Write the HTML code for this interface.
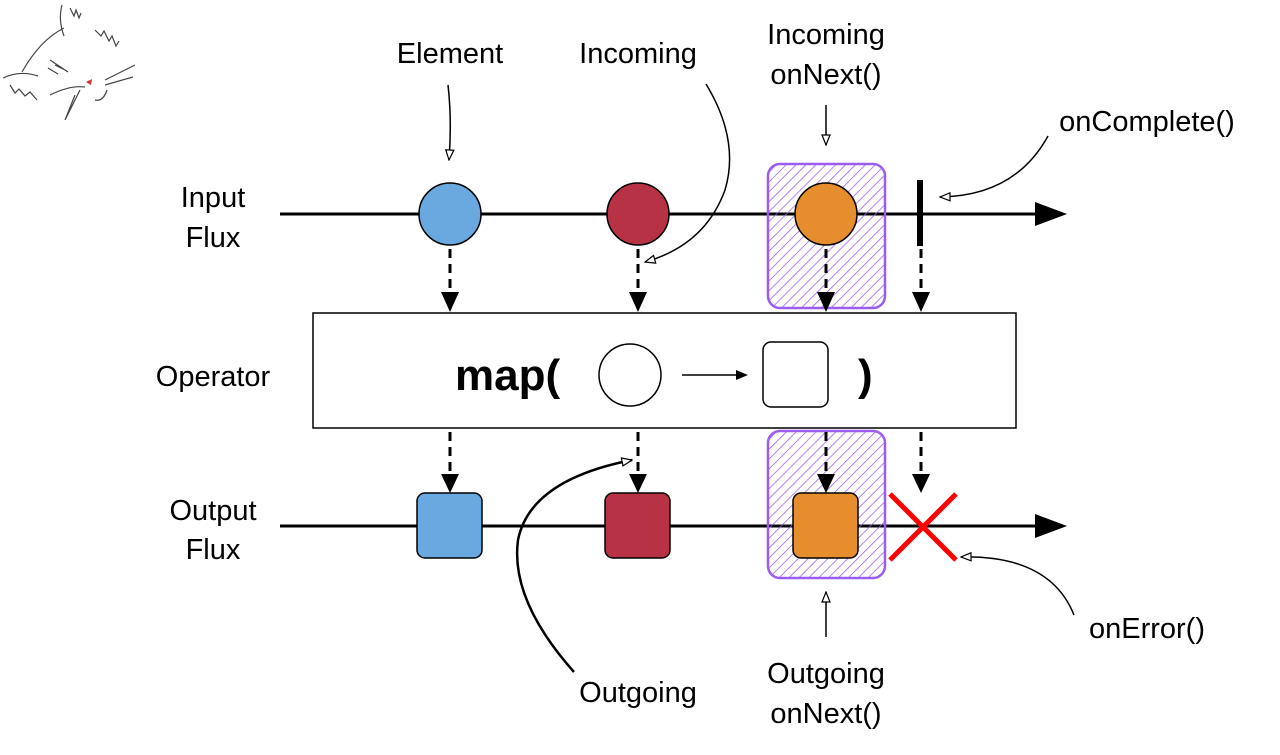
<!DOCTYPE html>
<html><head><meta charset="utf-8"><style>
html,body{margin:0;padding:0;background:#fff;}
svg{display:block;}
text{font-family:"Liberation Sans",sans-serif;font-size:29px;fill:#000;}
</style></head><body>
<svg width="1280" height="755" viewBox="0 0 1280 755" xmlns="http://www.w3.org/2000/svg">
<defs>
<pattern id="h" patternUnits="userSpaceOnUse" width="7" height="7" patternTransform="rotate(45)">
<line x1="0" y1="0" x2="0" y2="7" stroke="#9b5cf0" stroke-width="1.5"/>
</pattern>
<marker id="oh" markerWidth="12" markerHeight="10" refX="11" refY="5" orient="auto" markerUnits="userSpaceOnUse">
<path d="M1,1 L11,5 L1,9 Z" fill="#fff" stroke="#000" stroke-width="1.2"/>
</marker>
</defs>

<!-- cat sketch -->
<g fill="none" stroke="#444" stroke-width="1.2">
<path d="M62,5 Q58,20 64,36"/>
<path d="M64,28 Q40,40 22,72"/>
<path d="M3,78 Q20,70 38,76"/>
<path d="M70,8 l4,8 l2,-6 l3,8 l2,-5"/>
<path d="M95,30 l6,6 l3,-5 l5,10 l3,-5 l4,10 l3,-5"/>
<path d="M10,85 l5,8 l4,-4 l6,7 l5,-4 l7,8"/>
<path d="M50,60 l18,12 M55,65 l12,6 M48,68 l10,6"/>
<path d="M50,95 q20,-10 35,-8 M80,90 l-14,28 M75,95 l-10,25"/>
<path d="M105,80 l30,-15 M105,85 l28,-8 M95,100 q8,2 12,-10"/>
</g>
<path d="M86,82 l6,-3 l-1,6z" fill="#c33"/>

<line x1="280" y1="214" x2="1040" y2="214" stroke="#000" stroke-width="3"/>
<path d="M1035,202 L1067,214 L1035,226Z" fill="#000"/>
<line x1="280" y1="526" x2="1040" y2="526" stroke="#000" stroke-width="3"/>
<path d="M1035,514 L1067,526 L1035,538Z" fill="#000"/>

<rect x="768" y="164" width="117" height="144" rx="12" fill="url(#h)" stroke="#9b5cf0" stroke-width="2.5"/>
<rect x="768" y="431" width="117" height="147" rx="12" fill="url(#h)" stroke="#9b5cf0" stroke-width="2.5"/>

<circle cx="450" cy="214" r="31" fill="#6aa9e0" stroke="#000" stroke-width="1.5"/>
<circle cx="638" cy="214" r="31" fill="#b83245" stroke="#000" stroke-width="1.5"/>
<circle cx="826" cy="214" r="31" fill="#e68e2e" stroke="#000" stroke-width="1.5"/>
<rect x="917" y="180" width="6" height="66" fill="#000"/>

<g stroke="#000" stroke-width="3" stroke-dasharray="9,6">
<line x1="450" y1="249" x2="450" y2="294"/><line x1="638" y1="249" x2="638" y2="294"/>
<line x1="826" y1="249" x2="826" y2="294"/><line x1="921" y1="249" x2="921" y2="294"/>
<line x1="450" y1="432" x2="450" y2="476"/><line x1="638" y1="432" x2="638" y2="476"/>
<line x1="826" y1="432" x2="826" y2="476"/><line x1="921" y1="432" x2="921" y2="476"/>
</g>
<g fill="#000">
<path d="M441,292 L459,292 L450,312Z"/><path d="M629,292 L647,292 L638,312Z"/>
<path d="M817,292 L835,292 L826,312Z"/><path d="M912,292 L930,292 L921,312Z"/>
<path d="M441,474 L459,474 L450,493Z"/><path d="M629,474 L647,474 L638,493Z"/>
<path d="M817,474 L835,474 L826,493Z"/><path d="M912,474 L930,474 L921,493Z"/>
</g>

<rect x="313" y="313" width="703" height="115" fill="#fff" stroke="#000" stroke-width="1.5"/>
<text x="455" y="390" style="font-size:44px;font-weight:bold">map(</text>
<circle cx="630" cy="375" r="31" fill="#fff" stroke="#000" stroke-width="1.5"/>
<line x1="682" y1="375" x2="740" y2="375" stroke="#000" stroke-width="1.5"/>
<path d="M736,370 L748,375 L736,380Z" fill="#000"/>
<rect x="763" y="342" width="65" height="65" rx="8" fill="#fff" stroke="#000" stroke-width="1.5"/>
<text x="858" y="390" style="font-size:44px;font-weight:bold">)</text>

<rect x="417" y="493" width="65" height="65" rx="8" fill="#6aa9e0" stroke="#000" stroke-width="1.5"/>
<rect x="605" y="493" width="65" height="65" rx="8" fill="#b83245" stroke="#000" stroke-width="1.5"/>
<rect x="793" y="493" width="65" height="65" rx="8" fill="#e68e2e" stroke="#000" stroke-width="1.5"/>

<g stroke="#ff0000" stroke-width="5">
<line x1="890" y1="494" x2="956" y2="560"/><line x1="956" y1="494" x2="890" y2="560"/>
</g>

<g text-anchor="middle">
<text x="213" y="207">Input</text><text x="213" y="247">Flux</text>
<text x="213" y="386">Operator</text>
<text x="213" y="520">Output</text><text x="213" y="559">Flux</text>
<text x="450" y="63">Element</text>
<text x="638" y="63">Incoming</text>
<text x="826" y="44">Incoming</text><text x="826" y="84">onNext()</text>
<text x="1147" y="131">onComplete()</text>
<text x="1147" y="638">onError()</text>
<text x="638" y="702">Outgoing</text>
<text x="826" y="683">Outgoing</text><text x="826" y="723">onNext()</text>
</g>

<g fill="none" stroke="#000" stroke-width="1.5">
<path d="M448,85 Q452,120 449,160" marker-end="url(#oh)"/>
<path d="M706,84 Q740,140 725,190 Q705,245 645,262" marker-end="url(#oh)"/>
<path d="M826,105 L826,145" marker-end="url(#oh)"/>
<path d="M1048,136 Q1015,196 940,197" marker-end="url(#oh)"/>
<path d="M1074,615 Q1050,555 961,557" marker-end="url(#oh)"/>
<path d="M574,672 Q510,600 518,540 Q530,480 632,460" marker-end="url(#oh)" stroke-width="2.5"/>
<path d="M826,637 L826,592" marker-end="url(#oh)"/>
</g>
</svg>
</body></html>
